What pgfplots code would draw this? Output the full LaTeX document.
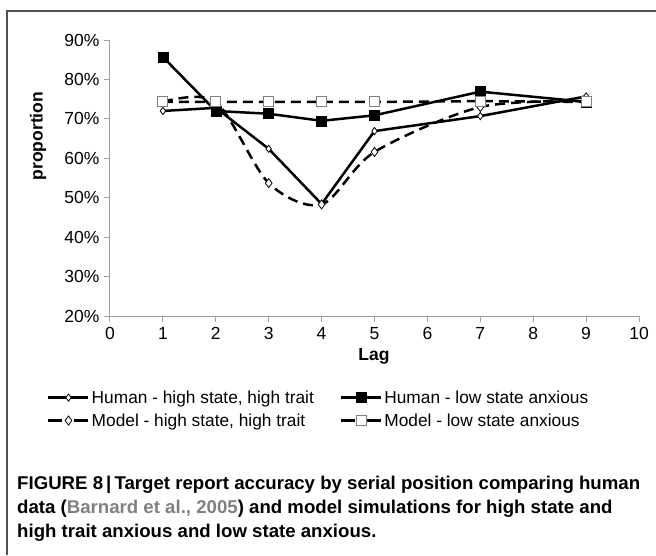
\documentclass[border=0pt]{standalone}
\usepackage{pgfplots}
\pgfplotsset{compat=1.18}
\usepackage{graphicx}
\usepackage{fontspec}
\setmainfont{Liberation Sans}
\definecolor{axgray}{HTML}{A0A0A0}
\definecolor{framegray}{HTML}{505050}
\definecolor{refgray}{HTML}{808080}
\pgfplotsset{
  solidleg/.style={legend image code/.code={
    \draw[##1,mark=none] (0pt,0pt) -- (40pt,0pt);
    \draw[##1,solid] plot[only marks] coordinates {(20pt,0pt)};}},
  dashleg/.style={legend image code/.code={
    \draw[##1,mark=none,dash pattern=on 14pt off 12pt] (0pt,0pt) -- (40pt,0pt);
    \draw[##1,solid] plot[only marks] coordinates {(20pt,0pt)};}},
}
\newcommand\capfnt{\bfseries\fontsize{18.5}{22}\selectfont}
\newsavebox\capbox
\begin{document}
\sbox\capbox{\capfnt FIGURE 8\,|\,Target report accuracy by serial position comparing human}%
\pgfmathsetmacro\capscale{623/\wd\capbox}%
\begin{tikzpicture}[x=1pt,y=1pt]
\useasboundingbox (0,0) rectangle (656,555);
\draw[framegray,line width=1.3pt] (7,0) -- (7,544) -- (656,544);
\begin{axis}[
  at={(110pt,239pt)}, anchor=south west,
  scale only axis, width=529pt, height=276pt,
  xmin=0, xmax=10, ymin=20, ymax=90,
  axis x line*=bottom, axis y line*=left,
  axis line style={axgray,line width=1pt},
  xtick={0,...,10}, ytick={20,30,...,90},
  tick align=outside, major tick length=6pt,
  tick style={axgray,line width=1pt},
  yticklabel={\pgfmathprintnumber{\tick}\%},
  /pgf/number format/assume math mode=true,
  ticklabel style={font=\fontsize{17.5}{20}\selectfont},
  yticklabel style={xshift=-1pt},
  xticklabel style={yshift=-2pt},
  clip=false,
  legend columns=2,
  legend style={draw=none, at={(-0.119,-0.262)}, anchor=north west,
    font=\fontsize{17.3}{20}\selectfont, inner sep=0pt, row sep=5pt,
    /tikz/every even column/.append style={column sep=24pt}},
  legend cell align=left,
]
\addplot[black, line width=2.5pt, mark=diamond*, mark size=3.6pt, solidleg,
  mark options={fill=white, line width=0.8pt, solid}]
  coordinates {(1,72.0)(2,72.8)(3,62.4)(4,48.4)(5,66.9)(7,70.7)(9,75.7)};
\addlegendentry{Human - high state, high trait}
\addplot[black, line width=2.5pt, mark=square*, mark size=5pt, solidleg,
  mark options={fill=black, line width=0.5pt, solid}]
  coordinates {(1,85.7)(2,72.0)(3,71.3)(4,69.5)(5,70.9)(7,76.9)(9,74.3)};
\addlegendentry{Human - low state anxious}
\addplot[black, line width=2.5pt, dash pattern=on 10pt off 6pt, smooth, tension=0.5,
  mark=diamond*, mark size=4.5pt, dashleg,
  mark options={fill=white, line width=0.8pt, solid}]
  coordinates {(1,74.3)(2,74.3)(3,53.7)(4,48.3)(5,61.6)(7,73.0)(9,74.5)};
\addlegendentry{Model - high state, high trait}
\addplot[black, line width=2.5pt, dash pattern=on 10pt off 6pt,
  mark=square*, mark size=5pt, dashleg,
  mark options={fill=white, draw=gray, line width=1pt, solid}]
  coordinates {(1,74.3)(2,74.3)(3,74.3)(4,74.3)(5,74.3)(7,74.5)(9,74.3)};
\addlegendentry{Model - low state anxious}
\end{axis}
\node[rotate=90, font=\bfseries\fontsize{17.5}{20}\selectfont] at (38,419) {proportion};
\node[font=\bfseries\fontsize{17.5}{20}\selectfont] at (374,199) {Lag};
\begin{scope}[every node/.style={anchor=base west, inner sep=0pt, font=\capfnt}]
\node at (17,66) {\scalebox{\capscale}[1]{FIGURE 8\,|\,Target report accuracy by serial position comparing human}};
\node at (17,42) {\scalebox{\capscale}[1]{data ({\color{refgray}Barnard et al., 2005}) and model simulations for high state and}};
\node at (17,18) {\scalebox{\capscale}[1]{high trait anxious and low state anxious.}};
\end{scope}
\end{tikzpicture}
\end{document}
